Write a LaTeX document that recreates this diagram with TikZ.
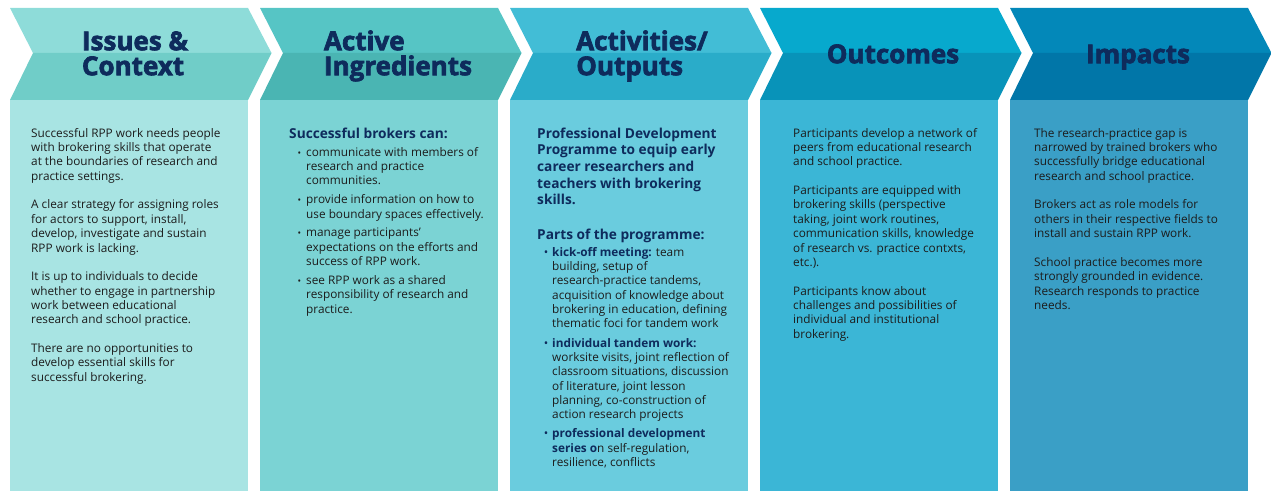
\documentclass[tikz,border=0pt]{standalone}
\usepackage{fontspec}
\setmainfont{Open Sans}
\newfontfamily\headfont[BoldFeatures={FakeBold=2.6}]{Open Sans}
\definecolor{navy}{HTML}{0E2B5C}
\definecolor{body}{HTML}{1C1C1C}
\definecolor{cAt}{HTML}{8EDCD9}\definecolor{cAb}{HTML}{70CDC8}\definecolor{cAx}{HTML}{A8E4E3}
\definecolor{cBt}{HTML}{56C5C5}\definecolor{cBb}{HTML}{4AB5B3}\definecolor{cBx}{HTML}{7BD3D4}
\definecolor{cCt}{HTML}{42BDD6}\definecolor{cCb}{HTML}{2AACC9}\definecolor{cCx}{HTML}{6ACCDE}
\definecolor{cDt}{HTML}{07A9CD}\definecolor{cDb}{HTML}{0893B9}\definecolor{cDx}{HTML}{3BB6D6}
\definecolor{cEt}{HTML}{0388B9}\definecolor{cEb}{HTML}{0176A8}\definecolor{cEx}{HTML}{3A9FC6}
\newcommand{\bt}{\llap{\textcolor{body}{\scalebox{0.8}{•}}\hspace{5pt}}}
\newcommand{\bn}{\llap{\textcolor{navy}{•}\hspace{4pt}}}
\newcommand{\fs}{\rule{0pt}{10pt}}
\newcommand{\hs}{\rule{0pt}{12pt}}
\newcommand{\hd}{\rule{0pt}{20pt}}
\tikzset{
  headtxt/.style={align=left, inner sep=0pt, anchor=north, text=navy, font=\headfont\bfseries\fontsize{26}{25}\selectfont},
  bodytxt/.style={align=left, inner sep=0pt, anchor=north west, text=body, font=\fontsize{11.8}{14.35}\selectfont},
  subhead/.style={align=left, inner sep=0pt, anchor=north west, text=navy, font=\bfseries\fontsize{13.7}{16.6}\selectfont},
}
\begin{document}
\begin{tikzpicture}[x=1pt,y=-1pt]
\useasboundingbox (0,0) rectangle (1271,492);
\foreach \i/\c in {0/A,1/B,2/C,3/D,4/E}{
  \pgfmathsetmacro{\L}{10+250*\i}
  \fill[c\c t] (\L,8) -- (\L+238,8) -- (\L+261.5,53) -- (\L+23,53) -- cycle;
  \fill[c\c b] (\L+23,53) -- (\L+261.5,53) -- (\L+238,100) -- (\L,100) -- cycle;
  \fill[c\c x] (\L,100) rectangle (\L+238,491);
}
\node[headtxt] (h1) at (135,30) {\hd Issues \&\\Context};
\node[headtxt] (h2) at (398,30) {\hd Active\\Ingredients};
\node[headtxt] (h3) at (642,30) {\hd Activities/\\Outputs};
\node[headtxt] (h4) at (893,43) {\hd Outcomes};
\node[headtxt] (h5) at (1138,43) {\hd Impacts};

\node[bodytxt] (t1) at (31,127) {\fs Successful RPP work needs people\\with brokering skills that operate\\at the boundaries of research and\\practice settings.\\[14.35pt]A clear strategy for assigning roles\\for actors to support, install,\\develop, investigate and sustain\\RPP work is lacking.\\[14.35pt]It is up to individuals to decide\\whether to engage in partnership\\work between educational\\research and school practice.\\[14.35pt]There are no opportunities to\\develop essential skills for\\successful brokering.};

\node[subhead] (s2) at (289,126) {\hs Successful brokers can:};
\node[bodytxt] (t2) at (306,146) {\fs\bt communicate with members of\\research and practice\\communities.\\[4.5pt]\bt provide information on how to\\use boundary spaces effectively.\\[4.5pt]\bt manage participants’\\expectations on the efforts and\\success of RPP work.\\[4.5pt]\bt see RPP work as a shared\\responsibility of research and\\practice.};

\node[subhead] (s3) at (537,126) {\hs Professional Development\\Programme to equip early\\career researchers and\\teachers with brokering\\skills.};
\node[subhead] (p3) at (537,227) {\hs Parts of the programme:};
\node[bodytxt] (t3) at (552,246) {\fs\bn\textcolor{navy}{\bfseries kick-off meeting:} team\\building, setup of\\research-practice tandems,\\acquisition of knowledge about\\brokering in education, defining\\thematic foci for tandem work\\[4.7pt]\bn\textcolor{navy}{\bfseries individual tandem work:}\\worksite visits, joint reflection of\\classroom situations, discussion\\of literature, joint lesson\\planning, co-construction of\\action research projects\\[4.7pt]\bn\textcolor{navy}{\bfseries professional development}\\\textcolor{navy}{\bfseries series o}n self-regulation,\\resilience, conflicts};

\node[bodytxt] (t4) at (793,127) {\fs Participants develop a network of\\peers from educational research\\and school practice.\\[14.35pt]Participants are equipped with\\brokering skills (perspective\\taking, joint work routines,\\communication skills, knowledge\\of research vs. practice contxts,\\etc.).\\[14.35pt]Participants know about\\challenges and possibilities of\\individual and institutional\\brokering.};

\node[bodytxt] (t5) at (1034,127) {\fs The research-practice gap is\\narrowed by trained brokers who\\successfully bridge educational\\research and school practice.\\[14.35pt]Brokers act as role models for\\others in their respective fields to\\install and sustain RPP work.\\[14.35pt]School practice becomes more\\strongly grounded in evidence.\\Research responds to practice\\needs.};
\end{tikzpicture}
\end{document}
